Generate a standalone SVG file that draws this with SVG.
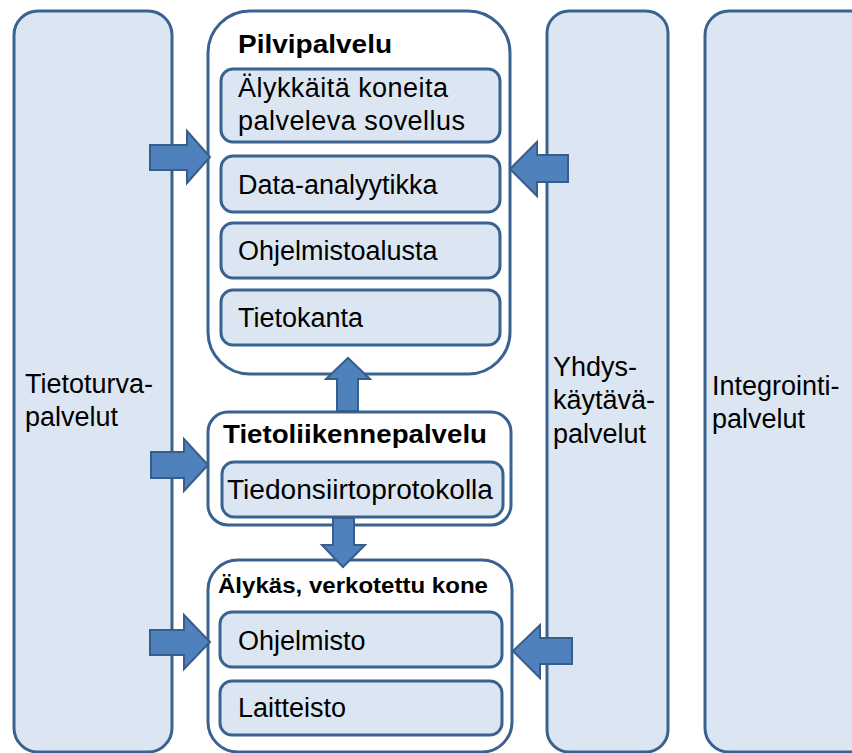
<svg xmlns="http://www.w3.org/2000/svg" width="852" height="753" viewBox="0 0 852 753">
<style>
.col{fill:#dce6f2;stroke:#3a6291;stroke-width:3}
.box{fill:#ffffff;stroke:#3a6291;stroke-width:3}
.inner{fill:#dce6f2;stroke:#3a6291;stroke-width:3}
.arrow{fill:#4f81bd;stroke:#385d8a;stroke-width:2;stroke-linejoin:miter}
text{font-family:"Liberation Sans",Arial,sans-serif;fill:#000}
.t{font-size:27px}
.b{font-weight:bold}
</style>
<rect width="852" height="753" fill="#ffffff"/>
<g id="tietoturva">
<rect class="col" x="14" y="11" width="158" height="741" rx="24"/>
<text class="t" x="25" y="393">Tietoturva-</text>
<text class="t" x="25" y="426">palvelut</text>
</g>
<g id="yhdys">
<rect class="col" x="547" y="11" width="121" height="741" rx="22"/>
<text class="t" x="553" y="376">Yhdys-</text>
<text class="t" x="553" y="409">käytävä-</text>
<text class="t" x="553" y="443">palvelut</text>
</g>
<g id="integrointi">
<rect class="col" x="705" y="11" width="170" height="741" rx="24"/>
<text class="t" x="712" y="395">Integrointi-</text>
<text class="t" x="712" y="428">palvelut</text>
</g>
<g id="pilvipalvelu">
<rect class="box" x="208" y="11" width="302" height="363" rx="42"/>
<text class="b" x="238" y="53" font-size="25.5" textLength="154" lengthAdjust="spacingAndGlyphs">Pilvipalvelu</text>
</g>
<g id="alykkaita">
<rect class="inner" x="221" y="69" width="279" height="73" rx="12"/>
<text class="t" x="238" y="97" textLength="210" lengthAdjust="spacing">Älykkäitä koneita</text>
<text class="t" x="238" y="130" textLength="227" lengthAdjust="spacing">palveleva sovellus</text>
</g>
<g id="data">
<rect class="inner" x="221" y="156" width="279" height="56" rx="12"/>
<text class="t" x="238" y="194">Data-analyytikka</text>
</g>
<g id="ohjelmistoalusta">
<rect class="inner" x="221" y="223" width="279" height="55" rx="12"/>
<text class="t" x="238" y="260">Ohjelmistoalusta</text>
</g>
<g id="tietokanta">
<rect class="inner" x="221" y="290" width="279" height="55" rx="12"/>
<text class="t" x="238" y="327">Tietokanta</text>
</g>
<g id="tietoliikenne">
<rect class="box" x="208" y="412" width="303" height="113" rx="20"/>
<text class="b" x="223" y="443" font-size="25.5" textLength="264" lengthAdjust="spacingAndGlyphs">Tietoliikennepalvelu</text>
</g>
<g id="tiedonsiirto">
<rect class="inner" x="222" y="462" width="281" height="55" rx="12"/>
<text class="t" x="227" y="499" textLength="266" lengthAdjust="spacingAndGlyphs">Tiedonsiirtoprotokolla</text>
</g>
<g id="alykas">
<rect class="box" x="208" y="560" width="304" height="192" rx="30"/>
<text class="b" x="218" y="593" font-size="22.5" textLength="270" lengthAdjust="spacingAndGlyphs">Älykäs, verkotettu kone</text>
</g>
<g id="ohjelmisto">
<rect class="inner" x="220" y="612" width="282" height="55" rx="12"/>
<text class="t" x="238" y="650">Ohjelmisto</text>
</g>
<g id="laitteisto">
<rect class="inner" x="220" y="681" width="282" height="54" rx="12"/>
<text class="t" x="238" y="717">Laitteisto</text>
</g>
<g id="connectors">
<polygon class="arrow" points="150,145 187,145 187,131 210,157 187,183 187,170 150,170"/>
<polygon class="arrow" points="151,452 184,452 184,439 208,465 184,491 184,478 151,478"/>
<polygon class="arrow" points="150,630 184,630 184,615 210,642 184,669 184,655 150,655"/>
<polygon class="arrow" points="568,155 537,155 537,142 510,169 537,196 537,182 568,182"/>
<polygon class="arrow" points="572,638 540,638 540,625 513,651 540,678 540,664 572,664"/>
<polygon class="arrow" points="337,411 337,379 326,379 348,358 370,379 358,379 358,411"/>
<polygon class="arrow" points="333,518 333,545 322,545 343,567 365,545 354,545 354,518"/>
</g>
</svg>
